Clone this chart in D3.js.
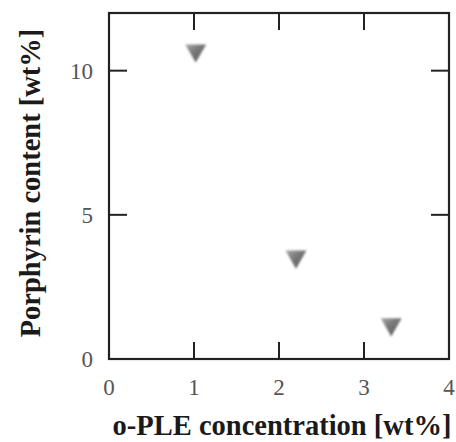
<!DOCTYPE html>
<html>
<head>
<meta charset="utf-8">
<script src="https://cdn.jsdelivr.net/npm/d3@7"></script>
<style>
  html, body { margin: 0; padding: 0; background: #fff; }
  svg { display: block; }
  .tick-label { font-family: "Liberation Serif", "Times New Roman", serif; font-size: 23px; fill: #555; }
  .axis-title { font-family: "Liberation Serif", "Times New Roman", serif; font-size: 28.5px; font-weight: bold; fill: #1a1a1a; }
</style>
</head>
<body>
<svg id="chart" width="456" height="442"></svg>
<script>
// Porphyrin content versus o-PLE concentration
const concentration = [1.02, 2.2, 3.32];   // o-PLE [wt%]
const porphyrin = [10.7, 3.55, 1.2];       // porphyrin [wt%]
const xTicks = [0, 1, 2, 3, 4];
const yTicks = [0, 5, 10];

const svg = d3.select("#chart");
const plotLeft = 109, plotRight = 449, plotTop = 13, plotBottom = 359;

const x = d3.scaleLinear().domain([0, 4]).range([plotLeft, plotRight]);
const y = d3.scaleLinear().domain([0, 12]).range([plotBottom, plotTop]);

// triangle shading
const defs = svg.append("defs");
const grad = defs.append("linearGradient").attr("id", "tri").attr("x1", 0).attr("y1", 0).attr("x2", 1).attr("y2", 1);
grad.append("stop").attr("offset", "0%").attr("stop-color", "#555");
grad.append("stop").attr("offset", "60%").attr("stop-color", "#7a7a7a");
grad.append("stop").attr("offset", "100%").attr("stop-color", "#aaa");
defs.append("filter").attr("id", "soft").append("feGaussianBlur").attr("stdDeviation", 0.8);

// frame
svg.append("rect")
  .attr("x", plotLeft).attr("y", plotTop)
  .attr("width", plotRight - plotLeft).attr("height", plotBottom - plotTop)
  .attr("fill", "none").attr("stroke", "#222").attr("stroke-width", 2.2);

// inward ticks on all four sides
const tickLen = 17;
const inner = xTicks.filter(d => d > 0 && d < 4);
svg.append("g").selectAll("line").data(inner).join("line")
  .attr("x1", d => x(d)).attr("x2", d => x(d))
  .attr("y1", plotBottom).attr("y2", plotBottom - tickLen)
  .attr("stroke", "#222").attr("stroke-width", 2);
svg.append("g").selectAll("line").data(inner).join("line")
  .attr("x1", d => x(d)).attr("x2", d => x(d))
  .attr("y1", plotTop).attr("y2", plotTop + tickLen)
  .attr("stroke", "#222").attr("stroke-width", 2);
const innerY = yTicks.filter(d => d > 0);
svg.append("g").selectAll("line").data(innerY).join("line")
  .attr("x1", plotLeft).attr("x2", plotLeft + tickLen + 1)
  .attr("y1", d => y(d)).attr("y2", d => y(d))
  .attr("stroke", "#222").attr("stroke-width", 2);
svg.append("g").selectAll("line").data(innerY).join("line")
  .attr("x1", plotRight).attr("x2", plotRight - tickLen - 1)
  .attr("y1", d => y(d)).attr("y2", d => y(d))
  .attr("stroke", "#222").attr("stroke-width", 2);

// tick labels
svg.append("g").selectAll("text").data(xTicks).join("text")
  .attr("class", "tick-label")
  .attr("x", d => x(d)).attr("y", 395)
  .attr("text-anchor", "middle")
  .text(d => d);
svg.append("g").selectAll("text").data(yTicks).join("text")
  .attr("class", "tick-label")
  .attr("x", 93).attr("y", d => y(d) + 8)
  .attr("text-anchor", "end")
  .text(d => d);

// axis titles
svg.append("text").attr("class", "axis-title")
  .attr("x", 282).attr("y", 435)
  .attr("text-anchor", "middle")
  .text("o-PLE concentration [wt%]");
svg.append("text").attr("class", "axis-title")
  .attr("transform", "translate(40,183) rotate(-90)")
  .attr("text-anchor", "middle")
  .text("Porphyrin content [wt%]");

// data markers: downward triangles
const tri = d3.symbol().type(d3.symbolTriangle).size(190);
svg.append("g").selectAll("path").data(concentration).join("path")
  .attr("d", tri)
  .attr("transform", (d, i) => `translate(${x(d)},${y(porphyrin[i])}) rotate(180)`)
  .attr("fill", "url(#tri)")
  .attr("filter", "url(#soft)");
</script>
</body>
</html>
